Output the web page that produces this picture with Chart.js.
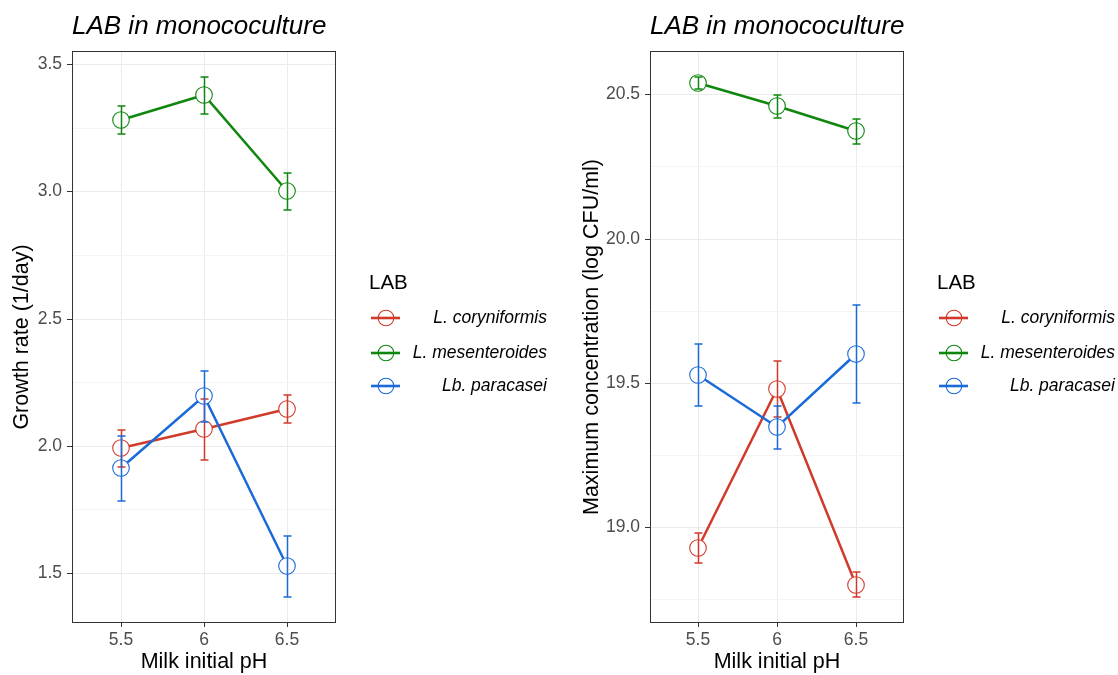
<!DOCTYPE html>
<html>
<head>
<meta charset="utf-8">
<script src="https://cdn.jsdelivr.net/npm/chart.js@4/dist/chart.umd.min.js"></script>
<style>
  body { margin: 0; background: #fff; font-family: 'Liberation Sans', Arial, sans-serif; }
  #wrap { position: relative; width: 1118px; height: 675px; overflow: hidden; }
  canvas { position: absolute; top: 0; }
  .title { position: absolute; top: 12px; font-size: 26px; line-height: 26px; font-style: italic; color: #000; white-space: nowrap; }
  .legend { position: absolute; top: 271px; width: 180px; }
  .legend .head { font-size: 20.5px; line-height: 21px; color: #000; }
  .legend .row { position: absolute; left: 0; width: 178px; height: 16px; }
  .legend .row svg { position: absolute; left: 2px; top: -2px; }
  .legend .row span { position: absolute; right: 0; top: -1px; font-size: 17.5px; line-height: 17.5px; font-style: italic; color: #000; white-space: nowrap; }
</style>
</head>
<body>
<div id="wrap">
  <canvas id="rateChart" width="559" height="675" style="left:0"></canvas>
  <canvas id="maxChart" width="559" height="675" style="left:559px"></canvas>
  <div class="title" style="left:72px">LAB in monococulture</div>
  <div class="title" style="left:650px">LAB in monococulture</div>
  <div class="legend" id="legendLeft" style="left:369px"></div>
  <div class="legend" id="legendRight" style="left:937px"></div>
</div>
<script>
// data
const phLevels = [5.5, 6, 6.5];
const labNames = ['L. coryniformis', 'L. mesenteroides', 'Lb. paracasei'];
const labColors = ['#d13a2b', '#0f870f', '#1a6ad8'];

// growth rate (1/day), mean and error
const rateCory = [1.99, 2.065, 2.143];
const rateCoryErr = [0.072, 0.12, 0.055];
const rateMes = [3.282, 3.378, 3.0];
const rateMesErr = [0.055, 0.072, 0.072];
const ratePara = [1.911, 2.195, 1.525];
const rateParaErr = [0.128, 0.10, 0.12];

// maximum concentration (log CFU/ml)
const maxCory = [18.926, 19.477, 18.80];
const maxCoryErr = [0.052, 0.097, 0.043];
const maxMes = [20.54, 20.458, 20.372];
const maxMesErr = [0.02, 0.04, 0.043];
const maxPara = [19.527, 19.345, 19.598];
const maxParaErr = [0.108, 0.075, 0.17];

// tick labels
const xTicks = [5.5, 6, 6.5];
const rateMajor = [1.5, 2.0, 2.5, 3.0, 3.5];
const rateMinor = [1.75, 2.25, 2.75, 3.25];
const maxMajor = [19.0, 19.5, 20.0, 20.5];
const maxMinor = [18.75, 19.25, 19.75, 20.25];

const FONT = "'Liberation Sans', Arial, sans-serif";

// ggplot-like 5% expansion of the data range
function yRange(means, errs) {
    let lo = Infinity, hi = -Infinity;
    means.forEach((m, g) => m.forEach((v, i) => {
        lo = Math.min(lo, v - errs[g][i]);
        hi = Math.max(hi, v + errs[g][i]);
    }));
    const pad = (hi - lo) * 0.05;
    return [lo - pad, hi + pad];
}

// error bars and panel border
const errorBarPlugin = {
    id: 'errorBars',
    afterDatasetsDraw(chart) {
        const ctx = chart.ctx;
        const xs = chart.scales.x, ys = chart.scales.y;
        const cfg = chart.options.plugins.errorBars;
        ctx.save();
        ctx.lineWidth = 1.5;
        cfg.means.forEach((m, g) => {
            ctx.strokeStyle = labColors[g];
            m.forEach((v, i) => {
                const px = Math.round(xs.getPixelForValue(phLevels[i])) + 0.5;
                const top = ys.getPixelForValue(v + cfg.errs[g][i]);
                const bot = ys.getPixelForValue(v - cfg.errs[g][i]);
                ctx.beginPath();
                ctx.moveTo(px, top); ctx.lineTo(px, bot);
                ctx.moveTo(px - 4, top); ctx.lineTo(px + 4, top);
                ctx.moveTo(px - 4, bot); ctx.lineTo(px + 4, bot);
                ctx.stroke();
            });
        });
        const a = chart.chartArea;
        ctx.strokeStyle = '#333333';
        ctx.lineWidth = 1;
        ctx.strokeRect(a.left + 0.5, a.top + 0.5, a.right - a.left - 1, a.bottom - a.top - 1);
        ctx.restore();
    }
};

function makePanel(canvasId, yTitle, means, errs, major, minor, yAxisWidth, rightPad, titlePad) {
    const [yMin, yMax] = yRange(means, errs);
    const datasets = [];
    // lines first (drawn underneath), then white-filled open circles
    means.forEach((m, g) => {
        datasets.push({
            data: m.map((v, i) => ({ x: phLevels[i], y: v })),
            showLine: true,
            borderColor: labColors[g],
            borderWidth: 2.5,
            pointRadius: 0,
            fill: false,
            order: 6 - g
        });
    });
    means.forEach((m, g) => {
        datasets.push({
            data: m.map((v, i) => ({ x: phLevels[i], y: v })),
            showLine: false,
            pointRadius: 8.3,
            pointBorderWidth: 1.1,
            pointBorderColor: labColors[g],
            pointBackgroundColor: '#ffffff',
            order: 3 - g
        });
    });
    const isMinor = v => minor.some(t => Math.abs(t - v) < 1e-6);

    return new Chart(document.getElementById(canvasId).getContext('2d'), {
        type: 'scatter',
        data: { datasets },
        plugins: [errorBarPlugin],
        options: {
            responsive: false,
            animation: false,
            devicePixelRatio: 1,
            layout: { padding: { top: 51, right: rightPad, left: 0, bottom: 0 } },
            plugins: {
                legend: { display: false },
                tooltip: { enabled: false },
                errorBars: { means, errs }
            },
            scales: {
                x: {
                    type: 'linear',
                    min: 5.2,
                    max: 6.8,
                    alignToPixels: true,
                    afterBuildTicks: s => { s.ticks = xTicks.map(v => ({ value: v })); },
                    afterFit: s => { s.height = 52; },
                    grid: { color: '#ebebeb', lineWidth: 1, tickLength: 4, tickColor: '#333333' },
                    border: { display: false },
                    ticks: {
                        color: '#4d4d4d', font: { family: FONT, size: 17.5 }, padding: 3,
                        maxRotation: 0, autoSkip: false,
                        callback: v => String(v)
                    },
                    title: {
                        display: true, text: 'Milk initial pH', color: '#000',
                        font: { family: FONT, size: 21.5 }, padding: { top: 0, bottom: 0 }
                    }
                },
                y: {
                    min: yMin,
                    max: yMax,
                    alignToPixels: true,
                    afterBuildTicks: s => {
                        s.ticks = major.concat(minor).sort((p, q) => p - q).map(v => ({ value: v }));
                    },
                    afterFit: s => { s.width = yAxisWidth; },
                    grid: {
                        color: c => isMinor(c.tick.value) ? '#f4f4f4' : '#ebebeb',
                        lineWidth: 1,
                        tickLength: 5,
                        tickColor: c => isMinor(c.tick.value) ? 'rgba(0,0,0,0)' : '#333333'
                    },
                    border: { display: false },
                    ticks: {
                        color: '#4d4d4d', font: { family: FONT, size: 17.5 }, padding: 5,
                        autoSkip: false,
                        callback: v => isMinor(v) ? '' : v.toFixed(1)
                    },
                    title: {
                        display: true, text: yTitle, color: '#000',
                        font: { family: FONT, size: 21.5 }, padding: { top: titlePad, bottom: 0 }
                    }
                }
            }
        }
    });
}

function buildLegend(id) {
    const el = document.getElementById(id);
    let html = '<div class="head">LAB</div>';
    const centers = [47.3, 81.7, 114.7];
    labNames.forEach((name, g) => {
        html += `<div class="row" style="top:${centers[g] - 8}px">` +
            `<svg width="30" height="20"><line x1="0" y1="10" x2="29" y2="10" stroke="${labColors[g]}" stroke-width="2.6"/>` +
            `<circle cx="15" cy="10" r="7.8" fill="none" stroke="${labColors[g]}" stroke-width="1.1"/></svg>` +
            `<span>${name}</span></div>`;
    });
    el.innerHTML = html;
}

makePanel('rateChart', 'Growth rate (1/day)',
    [rateCory, rateMes, ratePara], [rateCoryErr, rateMesErr, rateParaErr],
    rateMajor, rateMinor, 72, 223, 9);
makePanel('maxChart', 'Maximum concentration (log CFU/ml)',
    [maxCory, maxMes, maxPara], [maxCoryErr, maxMesErr, maxParaErr],
    maxMajor, maxMinor, 91, 214, 20);
buildLegend('legendLeft');
buildLegend('legendRight');
</script>
</body>
</html>
